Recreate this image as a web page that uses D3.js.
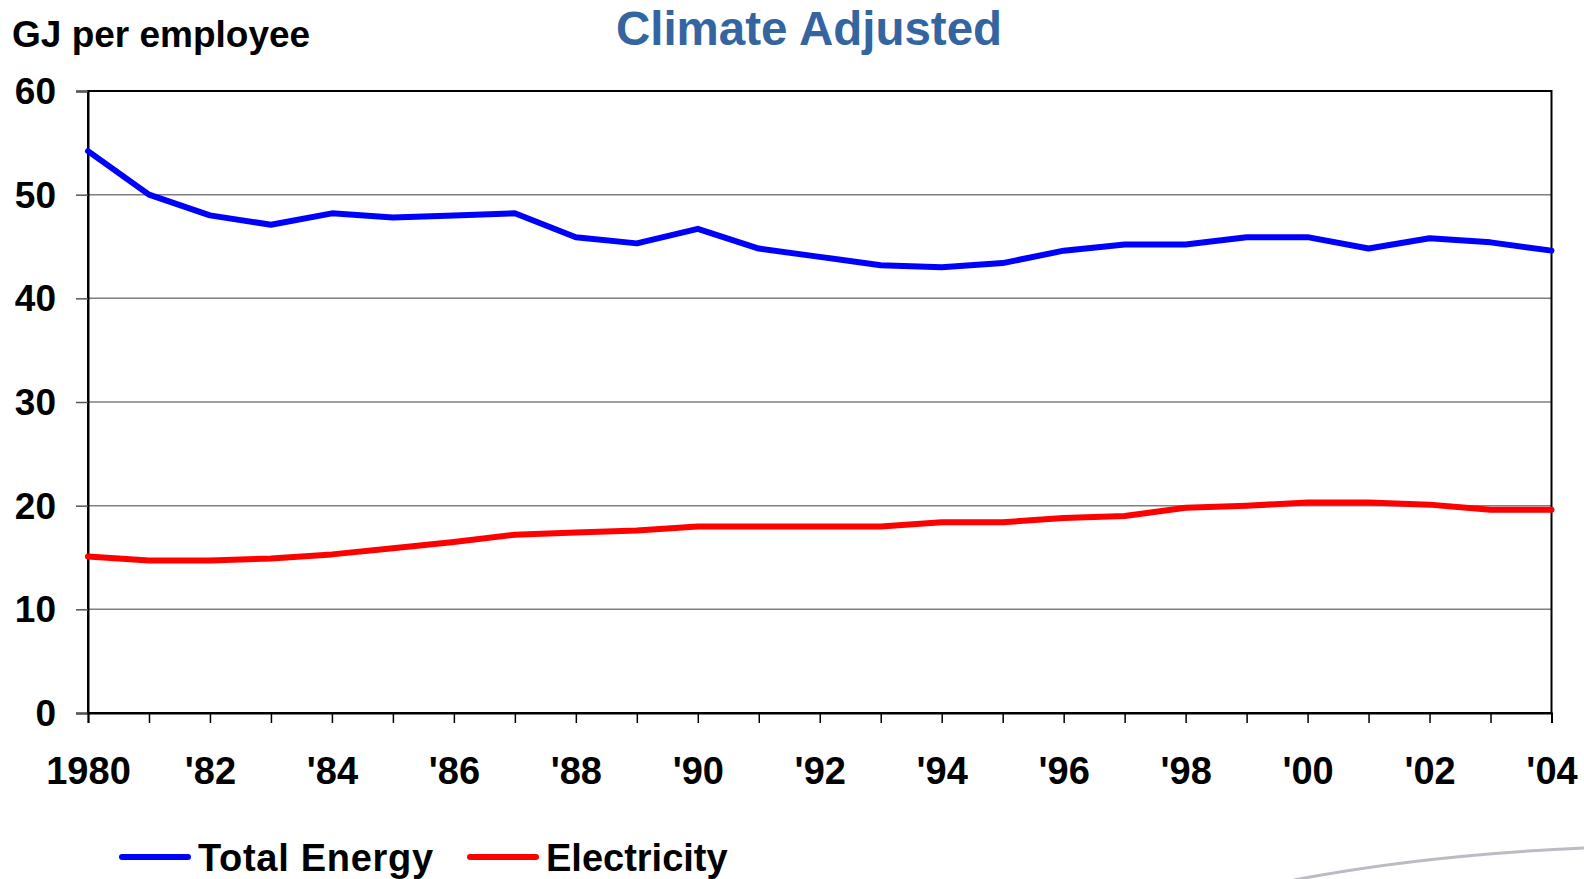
<!DOCTYPE html>
<html>
<head>
<meta charset="utf-8">
<script src="https://cdn.jsdelivr.net/npm/d3@7"></script>
<style>
  html, body { margin: 0; padding: 0; background: #ffffff; }
  svg { display: block; }
  text { font-family: "Liberation Sans", Arial, Helvetica, sans-serif; font-weight: bold; }
</style>
</head>
<body>
<svg id="chart" width="1584" height="879"></svg>
<script>
// ---- data ----
const years = [1980,1981,1982,1983,1984,1985,1986,1987,1988,1989,1990,1991,1992,1993,1994,1995,1996,1997,1998,1999,2000,2001,2002,2003,2004];
const totalEnergy = [54.2,50.0,48.0,47.1,48.2,47.8,48.0,48.2,45.9,45.3,46.7,44.8,44.0,43.2,43.0,43.4,44.6,45.2,45.2,45.9,45.9,44.8,45.8,45.4,44.6];
const electricity = [15.1,14.7,14.7,14.9,15.3,15.9,16.5,17.2,17.4,17.6,18.0,18.0,18.0,18.0,18.4,18.4,18.8,19.0,19.8,20.0,20.3,20.3,20.1,19.6,19.6];
const yTicks = [0,10,20,30,40,50,60];
const xTickLabels = {1980:"1980",1982:"'82",1984:"'84",1986:"'86",1988:"'88",1990:"'90",1992:"'92",1994:"'94",1996:"'96",1998:"'98",2000:"'00",2002:"'02",2004:"'04"};
const seriesNames = ["Total Energy","Electricity"];
const seriesColors = ["#0000ff","#ff0000"];

const svg = d3.select("#chart");
const W = 1584, H = 879;
const pLeft = 88, pRight = 1551.5, pTop = 91, pBottom = 713;

const x = d3.scaleLinear().domain([1980, 2004]).range([pLeft, pRight]);
const y = d3.scaleLinear().domain([0, 60]).range([pBottom, pTop]);

// decorative grey swoosh bottom-right
svg.append("path")
  .attr("d", `M${W-290},${H+1} Q${W-160},${H-24} ${W},${H-31}`)
  .attr("fill", "none").attr("stroke", "#b9bcc3").attr("stroke-width", 3);

// gridlines
svg.append("g").selectAll("line").data(yTicks.filter(d => d > 0 && d < 60)).join("line")
  .attr("x1", pLeft).attr("x2", pRight)
  .attr("y1", d => y(d)).attr("y2", d => y(d))
  .attr("stroke", "#7f7f7f").attr("stroke-width", 1.5);

// plot border
svg.append("rect")
  .attr("x", pLeft).attr("y", pTop).attr("width", pRight - pLeft).attr("height", pBottom - pTop)
  .attr("fill", "none").attr("stroke", "#000").attr("stroke-width", 2);

// y axis
const yAxis = svg.append("g").attr("transform", `translate(${pLeft},0)`)
  .call(d3.axisLeft(y).tickValues(yTicks).tickSize(12).tickPadding(20).tickFormat(d3.format("d")));
yAxis.select(".domain").attr("stroke", "#000").attr("stroke-width", 2);
yAxis.selectAll(".tick line").attr("stroke", "#555").attr("stroke-width", 1.5);
yAxis.selectAll(".tick text").attr("font-size", 37).attr("fill", "#000").attr("dy", "0.34em");

// x axis
const xAxis = svg.append("g").attr("transform", `translate(0,${pBottom})`)
  .call(d3.axisBottom(x).tickValues(years).tickSize(10).tickPadding(0)
    .tickFormat(d => xTickLabels[d] || ""));
xAxis.select(".domain").attr("stroke", "#000").attr("stroke-width", 2);
xAxis.selectAll(".tick line").attr("stroke", "#000").attr("stroke-width", 1.5);
xAxis.selectAll(".tick text").attr("font-size", 38).attr("fill", "#000")
  .attr("y", 71).attr("dy", 0);

// lines
const line = d3.line().x((d, i) => x(years[i])).y(d => y(d));
[totalEnergy, electricity].forEach((s, k) => {
  svg.append("path").datum(s)
    .attr("d", line)
    .attr("fill", "none")
    .attr("stroke", seriesColors[k])
    .attr("stroke-width", 6)
    .attr("stroke-linejoin", "round")
    .attr("stroke-linecap", "round");
});

// titles
svg.append("text").attr("x", 12).attr("y", 47).attr("font-size", 37).attr("fill", "#000")
  .text("GJ per employee");
svg.append("text").attr("x", 809).attr("y", 45).attr("text-anchor", "middle")
  .attr("font-size", 47.5).attr("fill", "#3465a0").text("Climate Adjusted");

// legend
const legendX = [122, 470];
seriesNames.forEach((name, k) => {
  const g = svg.append("g").attr("transform", `translate(${legendX[k]},857)`);
  g.append("line").attr("x1", 0).attr("x2", 66).attr("y1", 0).attr("y2", 0)
    .attr("stroke", seriesColors[k]).attr("stroke-width", 6).attr("stroke-linecap", "round");
  g.append("text").attr("x", 76).attr("y", 14).attr("font-size", 38).attr("fill", "#000")
    .attr("letter-spacing", k === 0 ? 0.7 : 0).text(name);
});
</script>
</body>
</html>
